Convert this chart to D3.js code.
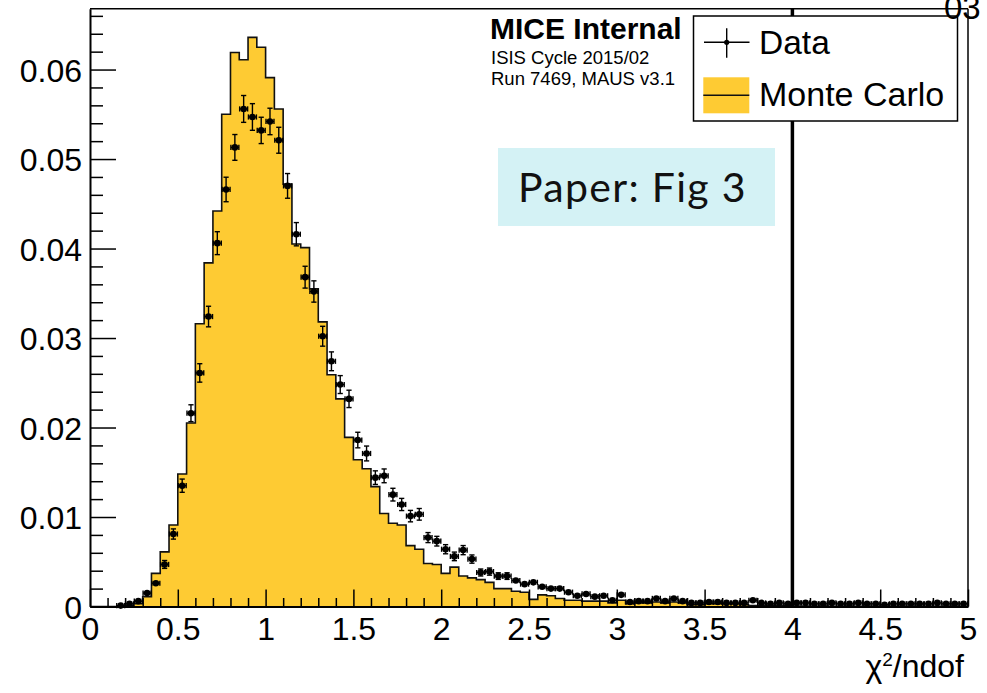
<!DOCTYPE html>
<html>
<head>
<meta charset="utf-8">
<script src="https://cdn.jsdelivr.net/npm/d3@7/dist/d3.min.js"></script>
<style>
  html, body { margin: 0; padding: 0; background: #fff; }
  svg { display: block; }
  text { font-family: "Liberation Sans", Arial, Helvetica, sans-serif; }
</style>
</head>
<body>
<svg id="chart" width="987" height="693"></svg>
<script>
// ---------------- DATA ----------------
const binWidth = 0.05;
const binLow = [
  0.00,0.05,0.10,0.15,0.20,0.25,0.30,0.35,0.40,0.45,
  0.50,0.55,0.60,0.65,0.70,0.75,0.80,0.85,0.90,0.95,
  1.00,1.05,1.10,1.15,1.20,1.25,1.30,1.35,1.40,1.45,
  1.50,1.55,1.60,1.65,1.70,1.75,1.80,1.85,1.90,1.95,
  2.00,2.05,2.10,2.15,2.20,2.25,2.30,2.35,2.40,2.45,
  2.50,2.55,2.60,2.65,2.70,2.75,2.80,2.85,2.90,2.95,
  3.00,3.05,3.10,3.15,3.20,3.25,3.30,3.35,3.40,3.45,
  3.50,3.55,3.60,3.65,3.70,3.75,3.80,3.85,3.90,3.95,
  4.00,4.05,4.10,4.15,4.20,4.25,4.30,4.35,4.40,4.45,
  4.50,4.55,4.60,4.65,4.70,4.75,4.80,4.85,4.90,4.95
];
const mcValues = [
  0,0,0,0,0.0001,0.0003,0.0011,0.0037,0.0061,0.0091,
  0.0148,0.0205,0.0316,0.0384,0.0442,0.0550,0.0619,0.0611,0.0636,0.0625,
  0.0591,0.0556,0.0472,0.0405,0.0401,0.0355,0.0318,0.0259,0.0232,0.0189,
  0.0164,0.0154,0.0134,0.0104,0.0093,0.0091,0.0068,0.0064,0.0048,0.0047,
  0.0037,0.0044,0.0034,0.0032,0.0030,0.0027,0.0020,0.0020,0.0017,0.0016,
  0.0008,0.0013,0.0012,0.0009,0.0007,0.0007,0.0006,0.0006,0.0006,0.0004,
  0.0007,0.0003,0.0004,0.0004,0.0005,0.0004,0.0005,0.0004,0.0002,0.0002,
  0.0003,0.0003,0.0003,0.0003,0.0002,0.0001,0.0001,0.0001,0.0001,0.0001,
  0.00005,0.00005,0.00003,0.00005,0.00003,0.00003,0.00005,0.00003,0.00003,0.00002,
  0.00003,0.00002,0.00003,0.00002,0.00002,0.00003,0.00002,0.00002,0.00002,0.00002
];
const dataValues = [
  null,null,null,0.0001,0.0003,0.0006,0.0015,0.0026,0.0047,0.0081,
  0.0135,0.0216,0.0261,0.0324,0.0406,0.0466,0.0513,0.0556,0.0547,0.0532,
  0.0542,0.0521,0.0470,0.0416,0.0368,0.0352,0.0302,0.0274,0.0248,0.0232,
  0.0186,0.0171,0.0144,0.0146,0.0125,0.0114,0.0101,0.0103,0.0077,0.0073,
  0.0064,0.0056,0.0063,0.0053,0.0038,0.0039,0.0034,0.0034,0.0029,0.0025,
  0.0027,0.0022,0.0020,0.0020,0.0016,0.0012,0.0014,0.0011,0.0012,0.0007,
  0.0013,0.0005,0.0006,0.0006,0.0009,0.0006,0.0009,0.0006,0.0004,0.0004,
  0.0005,0.0005,0.0004,0.0004,0.0004,0.0007,0.0004,0.0003,0.0004,0.0003,
  0.0004,0.0004,0.0003,0.0003,0.0004,0.0003,0.0003,0.0004,0.0003,0.0003,
  0.0002,0.0003,0.0003,0.0003,0.0003,0.0003,0.0004,0.0003,0.0003,0.0003
];
const dataErrors = [
  null,null,null,0.00006,0.00011,0.00016,0.00025,0.00032,0.00044,0.00057,
  0.00074,0.00094,0.00103,0.00115,0.00128,0.00137,0.00144,0.00150,0.00149,0.00147,
  0.00148,0.00145,0.00138,0.00130,0.00122,0.00119,0.00111,0.00105,0.00100,0.00097,
  0.00087,0.00083,0.00076,0.00077,0.00071,0.00068,0.00064,0.00065,0.00056,0.00054,
  0.00051,0.00048,0.00051,0.00046,0.00039,0.00040,0.00037,0.00037,0.00034,0.00032,
  0.00033,0.00030,0.00028,0.00028,0.00025,0.00022,0.00024,0.00021,0.00022,0.00017,
  0.00023,0.00014,0.00016,0.00016,0.00019,0.00016,0.00019,0.00016,0.00013,0.00013,
  0.00014,0.00014,0.00013,0.00013,0.00013,0.00017,0.00013,0.00011,0.00013,0.00011,
  0.00013,0.00013,0.00011,0.00011,0.00013,0.00011,0.00011,0.00013,0.00011,0.00011,
  0.00009,0.00011,0.00011,0.00011,0.00011,0.00011,0.00013,0.00011,0.00011,0.00011
];
const xTicks = [0,0.5,1,1.5,2,2.5,3,3.5,4,4.5,5];
const xTickLabels = ["0","0.5","1","1.5","2","2.5","3","3.5","4","4.5","5"];
const yTicks = [0,0.01,0.02,0.03,0.04,0.05,0.06];
const yTickLabels = ["0","0.01","0.02","0.03","0.04","0.05","0.06"];
const xDomain = [0, 5];
const yDomain = [0, 0.0668];
const cutValue = 4;
const legendLabels = ["Data", "Monte Carlo"];
const infoLines = ["MICE Internal", "ISIS Cycle 2015/02", "Run 7469, MAUS v3.1"];

// ---------------- LAYOUT ----------------
const svg = d3.select("#chart");
const L = 90, R = 968, T = 8.7, B = 606.5;
const x = d3.scaleLinear().domain(xDomain).range([L, R]);
const y = d3.scaleLinear().domain(yDomain).range([B, T]);
const yellow = "#fecb33";

// MC histogram (filled step)
const mcPath = d3.path();
mcPath.moveTo(x(xDomain[0]), y(0));
binLow.forEach((lo, i) => {
  mcPath.lineTo(x(lo), y(mcValues[i]));
  mcPath.lineTo(x(lo + binWidth), y(mcValues[i]));
});
mcPath.lineTo(x(xDomain[1]), y(0));
svg.append("path").attr("d", mcPath.toString())
  .attr("fill", yellow).attr("stroke", "#111").attr("stroke-width", 1.6)
  .attr("stroke-linejoin", "miter");

// cut line at chi2/ndof = 4
svg.append("line")
  .attr("x1", x(cutValue)).attr("x2", x(cutValue))
  .attr("y1", T).attr("y2", B)
  .attr("stroke", "#000").attr("stroke-width", 3.5);

// Axes
const fontAxis = 32;
const xMajor = d3.axisBottom(x).tickValues(xTicks)
  .tickFormat((d, i) => xTickLabels[i])
  .tickSizeInner(-17).tickSizeOuter(0).tickPadding(10.5);
const gx = svg.append("g").attr("transform", `translate(0,${B})`).call(xMajor);
gx.selectAll("text").attr("font-size", fontAxis).attr("fill", "#000")
  .style("font-family", '"Liberation Sans", Arial, sans-serif');
gx.selectAll("line").attr("stroke", "#000").attr("stroke-width", 1.5);
gx.select(".domain").attr("stroke", "#000").attr("stroke-width", 2);

const xMinorVals = d3.range(1, 50).map(k => k / 10).filter(v => Math.abs(v * 2 - Math.round(v * 2)) > 1e-6);
const xMinor = d3.axisBottom(x).tickValues(xMinorVals).tickFormat("").tickSizeInner(-8.5).tickSizeOuter(0);
const gxm = svg.append("g").attr("transform", `translate(0,${B})`).call(xMinor);
gxm.selectAll("line").attr("stroke", "#000").attr("stroke-width", 1.5);
gxm.select(".domain").remove();

const yMajor = d3.axisLeft(y).tickValues(yTicks)
  .tickFormat((d, i) => yTickLabels[i])
  .tickSizeInner(-26).tickSizeOuter(0).tickPadding(8);
const gy = svg.append("g").attr("transform", `translate(${L},0)`).call(yMajor);
gy.selectAll("text").attr("font-size", fontAxis).attr("fill", "#000").attr("dy", "0.36em")
  .style("font-family", '"Liberation Sans", Arial, sans-serif');
gy.selectAll("line").attr("stroke", "#000").attr("stroke-width", 1.5);
gy.select(".domain").attr("stroke", "#000").attr("stroke-width", 2);

const yMinorVals = d3.range(1, 34).map(k => k * 0.002).filter(v => Math.abs(v * 100 - Math.round(v * 100)) > 1e-6);
const yMinor = d3.axisLeft(y).tickValues(yMinorVals).tickFormat("").tickSizeInner(-13).tickSizeOuter(0);
const gym = svg.append("g").attr("transform", `translate(${L},0)`).call(yMinor);
gym.selectAll("line").attr("stroke", "#000").attr("stroke-width", 1.5);
gym.select(".domain").remove();

// Frame top & right
svg.append("line").attr("x1", L).attr("x2", R).attr("y1", T).attr("y2", T)
  .attr("stroke", "#000").attr("stroke-width", 1.5);
svg.append("line").attr("x1", R).attr("x2", R).attr("y1", T).attr("y2", B)
  .attr("stroke", "#000").attr("stroke-width", 1.5);

// Data points with error bars
const pts = binLow.map((lo, i) => ({c: lo + binWidth / 2, v: dataValues[i], e: dataErrors[i]}))
  .filter(d => d.v !== null);
const gData = svg.append("g").attr("stroke", "#000").attr("stroke-width", 1.4);
const cap = 2.6;
pts.forEach(d => {
  const cx = x(d.c), cy = y(d.v);
  const xl = x(d.c - binWidth / 2) + 0.4, xr = x(d.c + binWidth / 2) - 0.4;
  const yt = y(d.v + d.e), yb = y(Math.max(0, d.v - d.e));
  gData.append("line").attr("x1", xl).attr("x2", xr).attr("y1", cy).attr("y2", cy);
  gData.append("line").attr("x1", xl).attr("x2", xl).attr("y1", cy - cap).attr("y2", cy + cap);
  gData.append("line").attr("x1", xr).attr("x2", xr).attr("y1", cy - cap).attr("y2", cy + cap);
  if (cy - yt > 3.2) {
    gData.append("line").attr("x1", cx).attr("x2", cx).attr("y1", yt).attr("y2", yb);
    gData.append("line").attr("x1", cx - cap).attr("x2", cx + cap).attr("y1", yt).attr("y2", yt);
    gData.append("line").attr("x1", cx - cap).attr("x2", cx + cap).attr("y1", yb).attr("y2", yb);
  }
  gData.append("circle").attr("cx", cx).attr("cy", cy).attr("r", 3.3)
    .attr("fill", "#000").attr("stroke", "none");
});

// X axis title
const xt = svg.append("text").attr("x", 964).attr("y", 677)
  .attr("text-anchor", "end").attr("font-size", 32).attr("fill", "#000");
xt.append("tspan").text("χ");
xt.append("tspan").attr("font-size", 19).attr("dy", -11).text("2");
xt.append("tspan").attr("dy", 11).text("/ndof");

// Info text
svg.append("text").attr("x", 490).attr("y", 39).attr("font-size", 30)
  .attr("font-weight", "bold").attr("fill", "#000").text(infoLines[0]);
svg.append("text").attr("x", 491).attr("y", 64).attr("font-size", 18.5)
  .attr("fill", "#000").text(infoLines[1]);
svg.append("text").attr("x", 491).attr("y", 84.5).attr("font-size", 18.5)
  .attr("fill", "#000").text(infoLines[2]);

// Legend
const lg = svg.append("g");
lg.append("rect").attr("x", 693.5).attr("y", 16).attr("width", 264).attr("height", 105)
  .attr("fill", "#fff").attr("stroke", "#000").attr("stroke-width", 1.5);
// Data entry
lg.append("line").attr("x1", 704).attr("x2", 749.5).attr("y1", 42.3).attr("y2", 42.3)
  .attr("stroke", "#000").attr("stroke-width", 1.4);
lg.append("line").attr("x1", 726.7).attr("x2", 726.7).attr("y1", 28.3).attr("y2", 57.7)
  .attr("stroke", "#000").attr("stroke-width", 1.4);
lg.append("circle").attr("cx", 726.7).attr("cy", 42.3).attr("r", 2.6).attr("fill", "#000");
lg.append("text").attr("x", 759).attr("y", 53.5).attr("font-size", 33.5).attr("fill", "#000")
  .text(legendLabels[0]);
// MC entry
lg.append("rect").attr("x", 703.3).attr("y", 77.3).attr("width", 46).attr("height", 36)
  .attr("fill", yellow);
lg.append("line").attr("x1", 703.3).attr("x2", 749.3).attr("y1", 95.3).attr("y2", 95.3)
  .attr("stroke", "#111").attr("stroke-width", 1.6);
lg.append("text").attr("x", 759).attr("y", 106).attr("font-size", 34).attr("fill", "#000")
  .text(legendLabels[1]);

// Paper label box
svg.append("rect").attr("x", 498).attr("y", 148).attr("width", 277).attr("height", 78)
  .attr("fill", "#d4f2f5");
svg.append("text").attr("x", 518).attr("y", 202)
  .attr("font-size", 41).attr("fill", "#111").attr("letter-spacing", 1.3)
  .style("font-family", "Lato, 'Open Sans', sans-serif")
  .text("Paper: Fig 3");

// clipped page number at top right
svg.append("text").attr("x", 944).attr("y", 19).attr("font-size", 33).attr("fill", "#000")
  .text("03");
</script>
</body>
</html>
